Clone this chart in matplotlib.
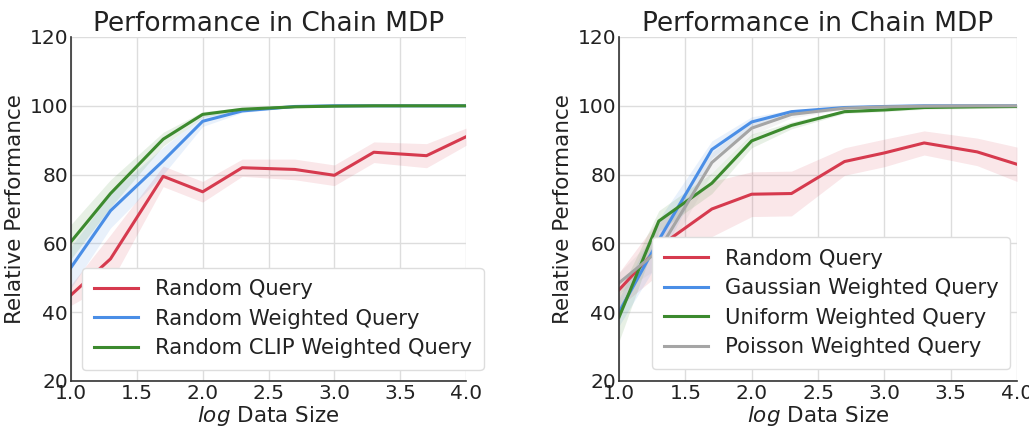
import matplotlib
matplotlib.use("Agg")
import matplotlib.pyplot as plt
import numpy as np

log_sizes = [1.0, 1.3, 1.7, 2.0, 2.3, 2.7, 3.0, 3.3, 3.7, 4.0]

# Left panel
left_labels = ["Random Query", "Random Weighted Query", "Random CLIP Weighted Query"]
left_random = [45, 55.5, 79.5, 75, 82, 81.5, 79.8, 86.5, 85.5, 91]
left_random_sd = [3, 7, 3, 3, 2.5, 3, 3, 3, 3.5, 2.5]
left_weighted = [53, 69.5, 84, 95.5, 98.5, 99.8, 100, 100, 100, 100]
left_weighted_sd = [6, 5, 4, 1.5, 0.5, 0.2, 0.2, 0.2, 0.2, 0.2]
left_clip = [60.5, 74.5, 90.3, 97.5, 99, 99.7, 99.9, 100, 100, 100]
left_clip_sd = [5, 4, 2, 0.8, 0.5, 0.2, 0.2, 0.2, 0.2, 0.2]

# Right panel
right_labels = ["Random Query", "Gaussian Weighted Query", "Uniform Weighted Query", "Poisson Weighted Query"]
right_random = [46.5, 59, 70, 74.3, 74.5, 83.8, 86.3, 89.2, 86.6, 83]
right_random_sd = [5, 8, 8, 6.5, 6.5, 4, 4, 3.5, 4, 5]
right_gauss = [40, 61, 87.3, 95.3, 98.3, 99.5, 99.8, 100, 100, 100]
right_gauss_sd = [4, 6, 2.5, 1.5, 0.5, 0.2, 0.2, 0.2, 0.2, 0.2]
right_uniform = [38.5, 66.5, 77.5, 89.8, 94.3, 98.3, 98.8, 99.5, 99.7, 99.8]
right_uniform_sd = [7, 3, 3, 2, 1, 0.5, 0.5, 0.5, 0.5, 0.5]
right_poisson = [48.5, 58, 83.5, 93.5, 97.5, 99.3, 99.7, 99.9, 100, 100]
right_poisson_sd = [3, 5, 3, 2, 1, 0.3, 0.3, 0.3, 0.3, 0.3]

RED = "#d63a4e"
BLUE = "#4a8ee6"
GREEN = "#3c8a2e"
GREY = "#a5a5a5"

plt.rcParams['font.family'] = ['DejaVu Sans']

fig = plt.figure(figsize=(10.29, 4.28), dpi=100)
W, H = 1029, 428
ax1 = fig.add_axes([71 / W, 1 - 381 / H, (466 - 71) / W, (381 - 37) / H])
ax2 = fig.add_axes([619 / W, 1 - 381 / H, (1017 - 619) / W, (381 - 37) / H])


def draw(ax, series, legend_anchor):
    x = np.array(log_sizes)
    for y, sd, c, lab in series:
        y = np.array(y)
        sd = np.array(sd)
        ax.fill_between(x, y - sd, y + sd, color=c, alpha=0.12, linewidth=0)
        ax.plot(x, y, color=c, linewidth=2.2, label=lab)
    ax.set_xlim(1.0, 4.0)
    ax.set_ylim(20, 120)
    ax.set_xticks([1.0, 1.5, 2.0, 2.5, 3.0, 3.5, 4.0])
    ax.set_yticks([20, 40, 60, 80, 100, 120])
    ax.grid(True, color="#dddddd", linewidth=1)
    ax.set_axisbelow(True)
    for s in ["top", "right"]:
        ax.spines[s].set_visible(False)
    for s in ["left", "bottom"]:
        ax.spines[s].set_color("#333333")
        ax.spines[s].set_linewidth(1.2)
    ax.tick_params(length=0, labelsize=14.5, pad=2, colors="#222222")
    ax.set_title("Performance in Chain MDP", fontsize=19, color="#222222", pad=3)
    ax.set_xlabel(r"$\it{log}$ Data Size", fontsize=15.5, color="#222222", labelpad=1)
    ax.set_ylabel("Relative Performance", fontsize=15.5, color="#222222", labelpad=3)
    leg = ax.legend(loc="lower left", bbox_to_anchor=legend_anchor, fontsize=15.2,
                    frameon=True, fancybox=True, handlelength=2.1, handletextpad=0.8,
                    borderaxespad=0, labelspacing=0.45, borderpad=0.55)
    leg.get_frame().set_edgecolor("#dddddd")
    leg.get_frame().set_alpha(1.0)
    for t in leg.get_texts():
        t.set_color("#222222")


draw(ax1, [
    (left_random, left_random_sd, RED, left_labels[0]),
    (left_weighted, left_weighted_sd, BLUE, left_labels[1]),
    (left_clip, left_clip_sd, GREEN, left_labels[2]),
], (0.028, 0.032))

draw(ax2, [
    (right_random, right_random_sd, RED, right_labels[0]),
    (right_gauss, right_gauss_sd, BLUE, right_labels[1]),
    (right_uniform, right_uniform_sd, GREEN, right_labels[2]),
    (right_poisson, right_poisson_sd, GREY, right_labels[3]),
], (0.083, 0.035))

fig.savefig("out.png", dpi=100)
